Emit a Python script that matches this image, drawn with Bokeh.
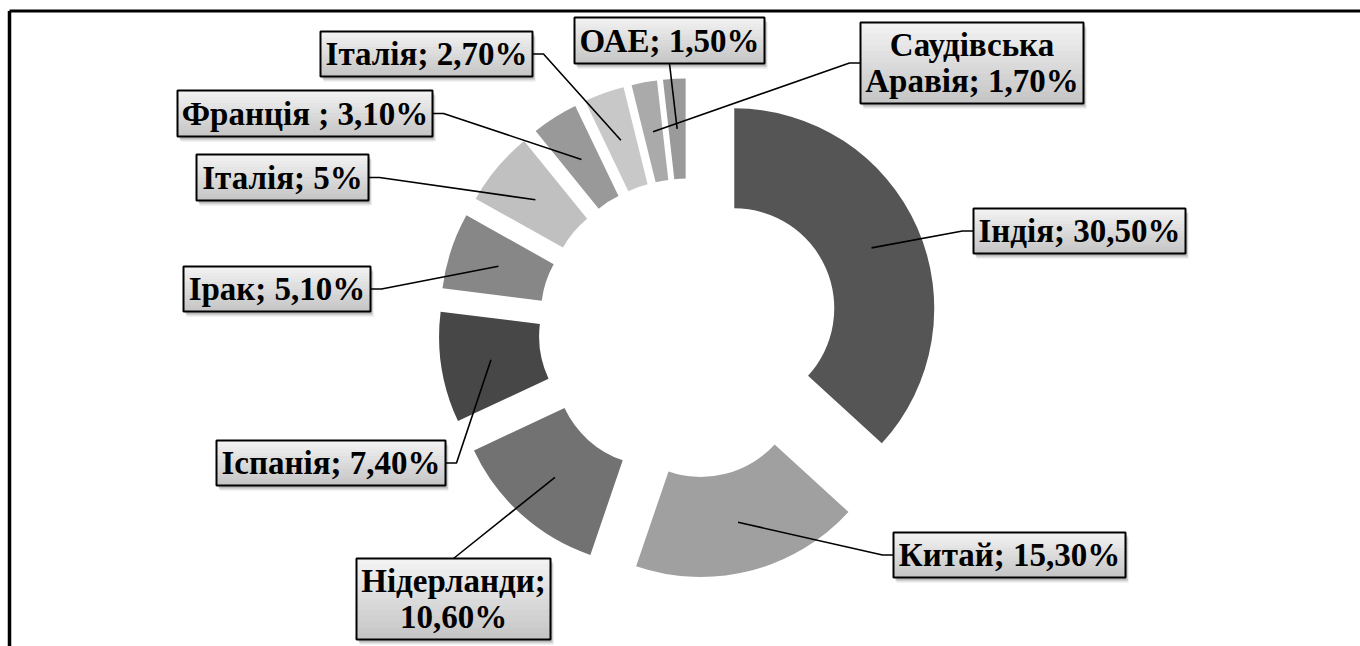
import math
from bokeh.plotting import figure
from bokeh.models import Range1d
from bokeh.embed import file_html
from bokeh.resources import INLINE
from bokeh.core.properties import value

# ---------------- data ----------------
countries = ["Індія", "Китай", "Нідерланди", "Іспанія", "Ірак",
             "Італія", "Франція ", "Італія", "Саудівська Аравія", "ОАЕ"]
shares = [30.5, 15.3, 10.6, 7.4, 5.1, 5.0, 3.1, 2.7, 1.7, 1.5]
pct_text = ["30,50%", "15,30%", "10,60%", "7,40%", "5,10%",
            "5%", "3,10%", "2,70%", "1,70%", "1,50%"]
colors = ["#555555", "#a0a0a0", "#727272", "#474747", "#878787",
          "#c0c0c0", "#999999", "#c8c8c8", "#aaaaaa", "#9a9a9a"]


def make_lines(name, pct):
    if name == "Нідерланди":
        return [name + ";", pct]
    if name == "Саудівська Аравія":
        a, b = name.split(" ")
        return [a, b + "; " + pct]
    return [name + "; " + pct]


# ---------------- layout (screenshot pixel coordinates) ----------------
box_cx = [1079, 1009, 453, 330.5, 276.5, 282, 304.5, 426, 971.5, 669]
box_cy = [230.5, 554.5, 598.5, 462.5, 288.5, 177, 113, 53.5, 62.5, 40]
box_w = [212, 232, 194, 229, 187, 172, 255, 212, 223, 190]
box_h = [45, 45, 81, 45, 45, 46, 46, 45, 81, 46]
box_side = ["left", "left", "top", "right", "right", "right", "right", "right", "left", "bottom"]

W, H = 1360, 646


def X(px):
    return px


def Y(py):
    return H - py


CX, CY = X(688), Y(328)
R_OUT, R_IN, EXPLODE = 200, 100, 50
R_LEAD = 150
STUB = 11

p = figure(width=W, height=H, output_backend="svg", toolbar_location=None,
           x_range=Range1d(0, W), y_range=Range1d(0, H),
           x_axis_type=None, y_axis_type=None, min_border=0)
p.grid.visible = False
p.outline_line_color = None
p.background_fill_color = "white"
p.border_fill_color = "white"

# ---------------- donut ----------------
total = sum(shares)
cum = 0.0
wx, wy, ws, we = [], [], [], []
lead_pts = []
for v in shares:
    t0 = cum / total * 2 * math.pi
    t1 = (cum + v) / total * 2 * math.pi
    tm = (t0 + t1) / 2
    sx = CX + EXPLODE * math.sin(tm)
    sy = CY + EXPLODE * math.cos(tm)
    wx.append(sx)
    wy.append(sy)
    ws.append(math.pi / 2 - t0)
    we.append(math.pi / 2 - t1)
    lead_pts.append((sx + R_LEAD * math.sin(tm), sy + R_LEAD * math.cos(tm)))
    cum += v

p.annular_wedge(x=wx, y=wy, inner_radius=R_IN, outer_radius=R_OUT,
                start_angle=ws, end_angle=we, direction="clock",
                fill_color=colors, line_color=None)

# ---------------- leader lines ----------------
lxs, lys = [], []
for i in range(len(shares)):
    cx, cy = X(box_cx[i]), Y(box_cy[i])
    hw, hh = box_w[i] / 2, box_h[i] / 2
    ex, ey = lead_pts[i]
    side = box_side[i]
    if side == "left":
        xs = [cx - hw, cx - hw - STUB, ex]
        ys = [cy, cy, ey]
    elif side == "right":
        xs = [cx + hw, cx + hw + STUB, ex]
        ys = [cy, cy, ey]
    elif side == "top":
        xs = [cx, ex]
        ys = [cy + hh, ey]
    else:
        xs = [cx, ex]
        ys = [cy - hh, ey]
    lxs.append(xs)
    lys.append(ys)
p.multi_line(xs=lxs, ys=lys, line_color="black", line_width=1.6)

# ---------------- label boxes ----------------
bx = [X(v) for v in box_cx]
by = [Y(v) for v in box_cy]
p.rect(x=[v + 3 for v in bx], y=[v - 5 for v in by], width=box_w, height=box_h,
       fill_color="black", fill_alpha=0.10, line_color=None)
p.rect(x=[v + 2 for v in bx], y=[v - 3 for v in by], width=box_w, height=box_h,
       fill_color="black", fill_alpha=0.18, line_color=None)
N = 14
top_c, bot_c = 0xf4, 0xc4
sx_, sy_, sw_, sh_, sc_ = [], [], [], [], []
for i in range(len(bx)):
    h = box_h[i]
    for k in range(N):
        frac = (k + 0.5) / N
        g = int(round(top_c + (bot_c - top_c) * frac))
        sx_.append(bx[i])
        sy_.append(by[i] + h / 2 - (k + 0.5) * h / N)
        sw_.append(box_w[i])
        sh_.append(h / N + 0.6)
        sc_.append("#%02x%02x%02x" % (g, g, g))
p.rect(x=sx_, y=sy_, width=sw_, height=sh_, fill_color=sc_, line_color=None)
p.rect(x=bx, y=by, width=box_w, height=box_h, fill_color=None,
       line_color="black", line_width=2)

# ---------------- label texts ----------------
tx, ty, tt = [], [], []
for i in range(len(shares)):
    lines = make_lines(countries[i], pct_text[i])
    n = len(lines)
    for j, t in enumerate(lines):
        tx.append(bx[i])
        ty.append(by[i] + (n - 1) * 18 - j * 36)
        tt.append(t)
p.text(x=tx, y=ty, text=tt,
       text_font=value("Times New Roman, Liberation Serif, DejaVu Serif, serif"),
       text_font_style="bold", text_font_size="33px", text_align="center",
       text_baseline="middle", text_color="black")

# ---------------- chart frame (top and left visible) ----------------
p.line(x=[X(9), W], y=[Y(10.5), Y(10.5)], line_color="black", line_width=3)
p.line(x=[X(9), X(9)], y=[Y(10.5), 0], line_color="black", line_width=3.5)

open("out.html", "w").write(file_html(p, INLINE))
